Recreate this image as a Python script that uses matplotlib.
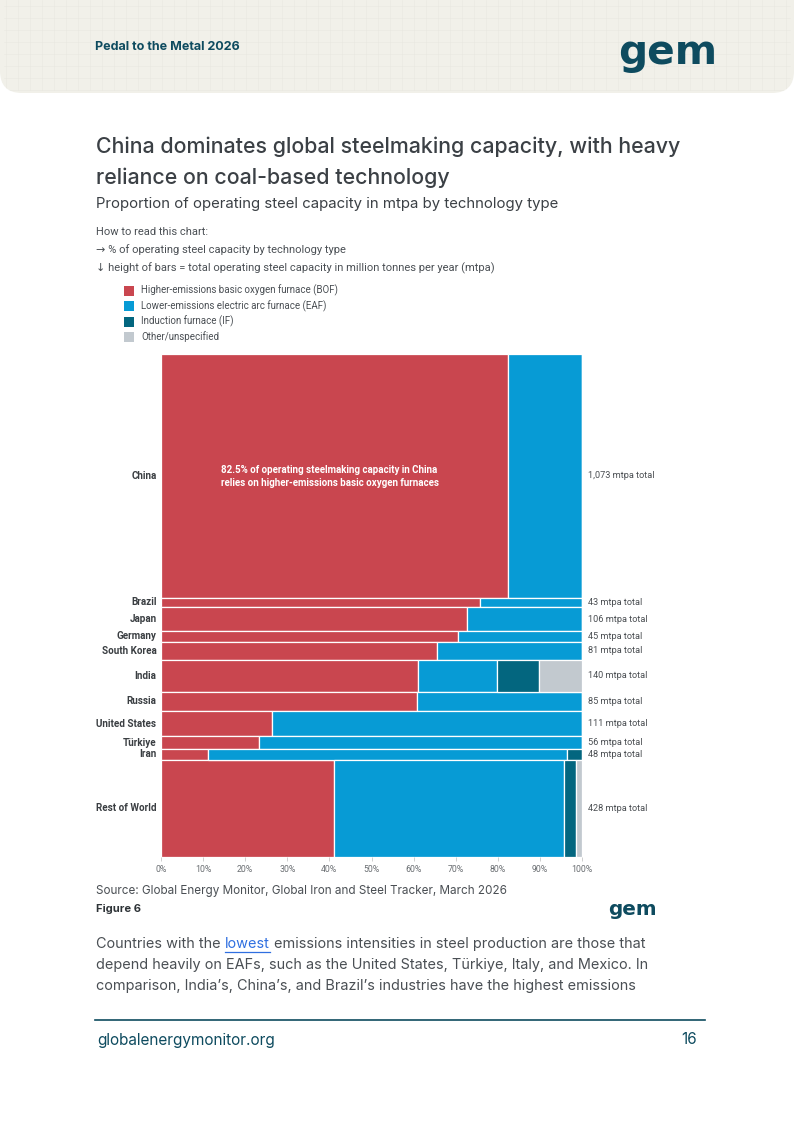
import matplotlib
matplotlib.use("Agg")
import matplotlib.pyplot as plt
from matplotlib.patches import FancyBboxPatch, Rectangle
from matplotlib import font_manager as fm
import numpy as np

# ---------------- data ----------------
countries = ["China", "Brazil", "Japan", "Germany", "South Korea", "India",
             "Russia", "United States", "Türkiye", "Iran", "Rest of World"]
totals = [1073, 43, 106, 45, 81, 140, 85, 111, 56, 48, 428]
bof_pct = [82.5, 75.8, 72.8, 70.5, 65.6, 61.0, 60.7, 26.3, 23.2, 11.1, 41.1]
eaf_pct = [17.5, 24.2, 27.2, 29.5, 34.4, 18.9, 39.3, 73.7, 76.8, 85.4, 54.7]
if_pct = [0, 0, 0, 0, 0, 9.8, 0, 0, 0, 3.5, 2.7]
other_pct = [0, 0, 0, 0, 0, 10.3, 0, 0, 0, 0, 1.5]
tech_labels = ["Higher-emissions basic oxygen furnace (BOF)",
               "Lower-emissions electric arc furnace (EAF)",
               "Induction furnace (IF)",
               "Other/unspecified"]
x_ticks = [0, 10, 20, 30, 40, 50, 60, 70, 80, 90, 100]
x_tick_labels = ["0%", "10%", "20%", "30%", "40%", "50%", "60%", "70%", "80%", "90%", "100%"]

# ---------------- style ----------------
RED = "#C9464F"
BLUE = "#079BD5"
TEAL = "#03667F"
GREY = "#C2C9CF"
DARK = "#0E4B5F"
TITLE_C = "#3B4045"
TEXT_C = "#4A4F54"
tech_colors = [RED, BLUE, TEAL, GREY]

names = {f.name for f in fm.fontManager.ttflist}
COND = "Liberation Sans Narrow" if "Liberation Sans Narrow" in names else "Roboto"
HEAD = "Inter" if "Inter" in names else "DejaVu Sans"

W, H = 794, 1122
fig = plt.figure(figsize=(W / 100, H / 100), dpi=100)
fig.patch.set_facecolor("white")

bg = fig.add_axes([0, 0, 1, 1])
bg.set_xlim(0, W)
bg.set_ylim(H, 0)
bg.axis("off")

renderer = fig.canvas.get_renderer()


def fit(t, width):
    w = t.get_window_extent(renderer=renderer).width
    t.set_fontsize(t.get_fontsize() * width / w)
    return t.get_fontsize()


def put(x, y, s, size=10, ha="left", va="center", family=None, **kw):
    fam = [family or HEAD, "DejaVu Sans"]
    return bg.text(x, y, s, fontsize=size, ha=ha, va=va, family=fam, **kw)


# ---------------- header ----------------
hdr = FancyBboxPatch((0, -40), W, 133, boxstyle="round,pad=0,rounding_size=22",
                     facecolor="#F1F0E9", edgecolor="none", zorder=0)
bg.add_patch(hdr)
for gx in np.arange(6, W, 12):
    bg.plot([gx, gx], [0, 90], color="#E4E3DB", lw=0.4, zorder=0.5, alpha=0.6)
for gy in np.arange(6, 92, 12):
    bg.plot([4, W - 4], [gy, gy], color="#E4E3DB", lw=0.4, zorder=0.5, alpha=0.6)
hdr2 = FancyBboxPatch((0, -40), W, 133, boxstyle="round,pad=0,rounding_size=22",
                      facecolor="none", edgecolor="none", zorder=0.6)
bg.add_patch(hdr2)
for ln in bg.lines:
    ln.set_clip_path(hdr)

t = put(95, 47, "Pedal to the Metal 2026", 10, fontweight="bold", color=DARK)
fit(t, 145)
t = put(618, 53, "gem", 30, fontweight="bold", color=DARK, family="DejaVu Sans")
fit(t, 99)

# ---------------- titles ----------------
t1 = put(96, 147, "China dominates global steelmaking capacity, with heavy", 17,
         color=TITLE_C, fontweight="medium")
fs = fit(t1, 587)
put(96, 178, "reliance on coal-based technology", fs, color=TITLE_C, fontweight="medium")
t = put(96, 204, "Proportion of operating steel capacity in mtpa by technology type", 11,
        color=TITLE_C)
fit(t, 460)

t3 = put(96, 268, "↓ height of bars = total operating steel capacity in million tonnes per year (mtpa)",
         8, family=COND, color=TEXT_C)
fs = fit(t3, 401)
put(96, 232, "How to read this chart:", fs, family=COND, color=TEXT_C)
put(96, 250, "→ % of operating steel capacity by technology type", fs, family=COND, color=TEXT_C)

# legend
leg_y = [290.7, 306.0, 321.7, 337.0]
lt = put(141, leg_y[0], tech_labels[0], 7, family=COND, color=TEXT_C)
fs = fit(lt, 197)
for i, (lab, col) in enumerate(zip(tech_labels, tech_colors)):
    bg.add_patch(Rectangle((124, leg_y[i] - 5), 10, 10, facecolor=col, edgecolor="none"))
    if i > 0:
        put(141, leg_y[i], lab, fs, family=COND, color=TEXT_C)

# ---------------- chart ----------------
ax = fig.add_axes([161 / W, 1 - 857 / H, 421 / W, 503 / H])
starts = np.concatenate([[0], np.cumsum(totals)[:-1]])
left = np.zeros(len(countries))
for vals, col in zip([bof_pct, eaf_pct, if_pct, other_pct], tech_colors):
    vals = np.array(vals, dtype=float)
    ax.barh(starts, vals, height=totals, left=left, align="edge", color=col,
            edgecolor="white", linewidth=0.9)
    left = left + vals
ax.set_xlim(0, 100)
ax.set_ylim(sum(totals), 0)
for s in ax.spines.values():
    s.set_visible(False)
ax.set_yticks([])
ax.set_xticks(x_ticks)
ax.set_xticklabels(x_tick_labels, family=[COND, "DejaVu Sans"])
ax.tick_params(axis="x", length=3, width=0.6, color="#C8C8C8", labelsize=6.3,
               labelcolor="#6A6E72", pad=3)
ax.set_facecolor("none")

ytr = ax.get_yaxis_transform()
centers = starts + np.array(totals) / 2
cl = []
for name, c in zip(countries, centers):
    cl.append(ax.text(-4.5 / 421, c, name, transform=ytr, ha="right", va="center",
                      fontweight="bold", family=[COND, "DejaVu Sans"], fontsize=7,
                      color="#3A3E42"))
fs = fit(cl[countries.index("United States")], 60)
for t in cl:
    t.set_fontsize(fs)

tl = []
for tot, c in zip(totals, centers):
    tl.append(ax.text(1 + 6 / 421, c, f"{tot:,} mtpa total", transform=ytr, ha="left",
                      va="center", family=[COND, "DejaVu Sans"], fontsize=7, color="#4A4E52"))
fs = fit(tl[0], 67)
for t in tl:
    t.set_fontsize(fs)

ann = ax.text(bof_pct[0] / 2 - 1.2, centers[0] + 4,
              "82.5% of operating steelmaking capacity in China\nrelies on higher-emissions basic oxygen furnaces",
              ha="center", va="center", color="white", fontweight="bold",
              family=[COND, "DejaVu Sans"], fontsize=7, linespacing=1.35)
fit(ann, 220)

# ---------------- source & footer ----------------
t = put(96, 891, "Source: Global Energy Monitor, Global Iron and Steel Tracker, March 2026", 9.5,
        color=TEXT_C)
fit(t, 411)
t = put(96, 909, "Figure 6", 8, color="#2F3438", fontweight="bold")
fit(t, 45)
t = put(608, 909, "gem", 15, color=DARK, fontweight="bold", family="DejaVu Sans")
fit(t, 49)

P_C = "#4A4F54"
l2 = put(96, 965, "depend heavily on EAFs, such as the United States, Türkiye, Italy, and Mexico. In",
         11, color=P_C)
pfs = fit(l2, 549)
put(96, 986, "comparison, India’s, China’s, and Brazil’s industries have the highest emissions",
    pfs, color=P_C)
a = put(96, 944, "Countries with the", pfs, color=P_C)
sp1 = put(0, -100, "a a", pfs)
sp2 = put(0, -100, "aa", pfs)
space = sp1.get_window_extent(renderer=renderer).width - sp2.get_window_extent(renderer=renderer).width
sp1.remove(); sp2.remove()
x = 96 + a.get_window_extent(renderer=renderer).width + space
b = put(x, 944, "lowest", pfs, color="#2F6FE0")
bw = b.get_window_extent(renderer=renderer).width
bg.plot([x, x + bw], [952, 952], color="#2F6FE0", lw=0.9)
put(x + bw + space, 944, "emissions intensities in steel production are those that", pfs, color=P_C)

bg.plot([95, 705], [1020, 1020], color=DARK, lw=1.2)
t = put(97, 1040, "globalenergymonitor.org", 11, color=DARK)
fit(t, 178)
put(697, 1040, "16", t.get_fontsize(), ha="right", color=DARK)

fig.savefig("out.png", dpi=100, facecolor="white")
